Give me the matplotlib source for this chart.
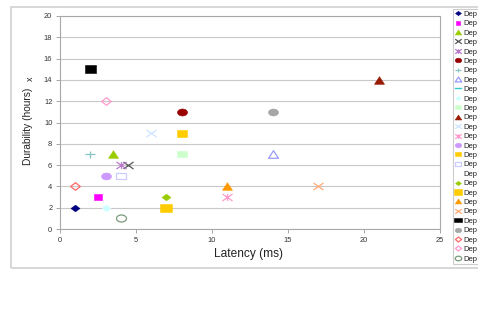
import numpy as np
import matplotlib
matplotlib.use("Agg")
import matplotlib.pyplot as plt
from matplotlib.path import Path
from matplotlib.patches import Rectangle

plt.rcParams['font.family'] = ['Liberation Sans', 'DejaVu Sans']

# ---------------- data ----------------
labels = ["Dep"] * 27
latency = [1, 2.5, 3.5, 4.5, 4, 8, 2, 14, np.nan, 3, 8, 21, 6, 11, 3, 8, 4,
           np.nan, 7, 7, 11, 17, 2, 14, 1, 3, 4]
durability = [2, 3, 7, 6, 6, 11, 7, 7, np.nan, 2, 7, 14, 9, 3, 5, 9, 5,
              np.nan, 3, 2, 4, 4, 15, 11, 4, 12, 1]
x_ticks = [0, 5, 10, 15, 20, 25]
y_ticks = [0, 2, 4, 6, 8, 10, 12, 14, 16, 18, 20]

# ---------------- styles ----------------
# (shape, face, edge, filled, half-width px, half-height px)
styles = [
    ("D", "#000080", "#000080", True, 4.5, 3.3),
    ("s", "#ff00ff", "#ff00ff", True, 3.8, 3.0),
    ("^", "#99cc00", "#99cc00", True, 5.0, 3.8),
    ("x", "none", "#555555", False, 5.0, 3.5),
    ("*", "none", "#bb77cc", False, 5.0, 3.5),
    ("o", "#990000", "#990000", True, 5.0, 3.5),
    ("+", "none", "#88c4c4", False, 5.0, 3.5),
    ("^", "none", "#9999ff", False, 5.0, 3.8),
    ("line", "none", "#33cccc", False, 5.0, 3.5),
    ("D", "#ccffff", "#ccffff", True, 4.2, 3.3),
    ("s", "#ccffcc", "#ccffcc", True, 4.8, 3.3),
    ("^", "#991a00", "#991a00", True, 5.0, 3.8),
    ("x", "none", "#cce5ff", False, 5.0, 3.5),
    ("*", "none", "#ff99cc", False, 5.0, 3.5),
    ("o", "#cc99ff", "#cc99ff", True, 5.0, 3.5),
    ("s", "#ffcc00", "#ffcc00", True, 5.0, 3.5),
    ("s", "none", "#ccccff", False, 5.0, 3.3),
    ("blank", "none", "none", False, 5.0, 3.5),
    ("D", "#99cc00", "#99cc00", True, 4.5, 3.3),
    ("s", "#ffcc00", "#ffcc00", True, 6.0, 4.0),
    ("^", "#ff9900", "#ff9900", True, 5.0, 3.8),
    ("x", "none", "#ffaa77", False, 5.0, 3.5),
    ("s", "#000000", "#000000", True, 5.5, 3.8),
    ("o", "#a6a6a6", "#a6a6a6", True, 5.0, 3.5),
    ("D", "none", "#ff6666", False, 4.8, 3.8),
    ("D", "none", "#ff99cc", False, 4.8, 3.8),
    ("o", "none", "#7a9a7a", False, 5.0, 3.5),
]


def make_path(shape, rx, ry):
    if shape == "o":
        c = Path.unit_circle()
        v = c.vertices * [rx, ry]
        return Path(v, c.codes)
    if shape == "s":
        v = [(-rx, -ry), (rx, -ry), (rx, ry), (-rx, ry), (-rx, -ry)]
        return Path(v, [Path.MOVETO, Path.LINETO, Path.LINETO, Path.LINETO, Path.CLOSEPOLY])
    if shape == "D":
        v = [(0, -ry), (rx, 0), (0, ry), (-rx, 0), (0, -ry)]
        return Path(v, [Path.MOVETO, Path.LINETO, Path.LINETO, Path.LINETO, Path.CLOSEPOLY])
    if shape == "^":
        v = [(-rx, -ry), (rx, -ry), (0, ry), (-rx, -ry)]
        return Path(v, [Path.MOVETO, Path.LINETO, Path.LINETO, Path.CLOSEPOLY])
    if shape == "x":
        v = [(-rx, -ry), (rx, ry), (-rx, ry), (rx, -ry)]
        return Path(v, [Path.MOVETO, Path.LINETO, Path.MOVETO, Path.LINETO])
    if shape == "+":
        v = [(-rx, 0), (rx, 0), (0, -ry), (0, ry)]
        return Path(v, [Path.MOVETO, Path.LINETO, Path.MOVETO, Path.LINETO])
    if shape == "*":
        v = [(-rx, -ry), (rx, ry), (-rx, ry), (rx, -ry), (0, -ry), (0, ry)]
        return Path(v, [Path.MOVETO, Path.LINETO, Path.MOVETO, Path.LINETO,
                        Path.MOVETO, Path.LINETO])
    return None


W, H = 478, 322
fig = plt.figure(figsize=(W / 100, H / 100), dpi=100)

# outer chart frame
fig.add_artist(Rectangle((11 / W, 1 - 268 / H), (W + 10 - 11) / W, (268 - 7) / H,
                         transform=fig.transFigure, fill=False,
                         edgecolor="#d4d4d4", lw=1.3))

ax = fig.add_axes([60 / W, 1 - 229 / H, (440 - 60) / W, (229 - 16) / H])
ax.set_xlim(0, 25)
ax.set_ylim(0, 20)
ax.set_xticks(x_ticks)
ax.set_yticks(y_ticks)
ax.set_xticklabels([str(t) for t in x_ticks])
ax.set_yticklabels([str(t) for t in y_ticks])
ax.tick_params(labelsize=5.4, colors="#333333", length=3, width=0.6, pad=2.5)
ax.tick_params(axis="both", color="#999999")
ax.yaxis.grid(True, color="#c8c8c8", lw=0.8)
ax.set_axisbelow(True)
for s in ax.spines.values():
    s.set_color("#a8a8a8")
    s.set_linewidth(0.8)

handles = []
for i, (shape, fc, ec, filled, rx, ry) in enumerate(styles):
    if shape == "line":
        h, = ax.plot([latency[i]], [durability[i]], linestyle="-", color=ec,
                     lw=1.0, marker="None", label=labels[i])
    elif shape == "blank":
        h, = ax.plot([latency[i]], [durability[i]], linestyle="None",
                     marker="None", label=labels[i])
    else:
        p = make_path(shape, rx, ry)
        ms = 2 * max(rx, ry) * 72 / 100
        h, = ax.plot([latency[i]], [durability[i]], linestyle="None", marker=p,
                     ms=ms, mfc=fc, mec=ec, mew=0.9 if not filled else 0.4,
                     label=labels[i], clip_on=False, zorder=3)
    handles.append(h)

fig.text(28 / W, 1 - 126 / H, "Durability (hours)", rotation=90, ha="center",
         va="center", fontsize=7.3, color="#222222")
fig.text(30 / W, 1 - 79 / H, "x", rotation=90, ha="center", va="center",
         fontsize=6.5, color="#222222")
fig.text(249 / W, 1 - 254 / H, "Latency (ms)", ha="center", va="center",
         fontsize=8.6, color="#222222")

leg = fig.legend(handles=handles, labels=labels, loc="upper left",
                 bbox_to_anchor=(453 / W, 1 - 9 / H),
                 bbox_transform=fig.transFigure, borderaxespad=0,
                 fontsize=5.5, markerscale=0.65, handlelength=0.9,
                 handletextpad=0.3, labelspacing=0.27, borderpad=0.2,
                 frameon=True, fancybox=False)
leg.get_frame().set_edgecolor("#c0c0c0")
leg.get_frame().set_linewidth(0.8)
for t in leg.get_texts():
    t.set_color("#222222")

fig.savefig("out.png", dpi=100)
